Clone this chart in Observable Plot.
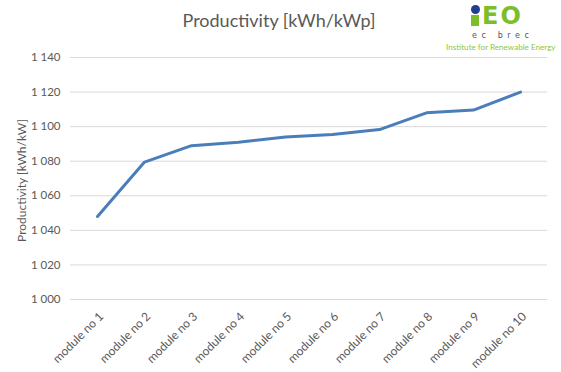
<!DOCTYPE html>
<html><head><meta charset="utf-8">
<script src="https://cdn.jsdelivr.net/npm/d3@7"></script>
<script src="https://cdn.jsdelivr.net/npm/@observablehq/plot@0.6"></script>
<style>
body{margin:0;background:#fff;font-family:Lato,"Open Sans",sans-serif;}
#wrap{position:relative;width:561px;height:372px;}
#title{position:absolute;left:0;width:558px;top:9px;text-align:center;font-size:18px;color:#595959;}
#logo{position:absolute;left:440px;top:0;width:121px;height:56px;}
</style></head>
<body><div id="wrap"><div id="chart"></div><div id="title">Productivity [kWh/kWp]</div>
<div id="logo">
<div style="position:absolute;left:31px;top:5px;width:9px;height:9px;border-radius:50%;background:#1f3f8f"></div>
<div style="position:absolute;left:31px;top:15px;width:8px;height:11px;background:#7cbd2a"></div>
<div style="position:absolute;left:42px;top:2px;font:bold 24px 'DejaVu Sans',sans-serif;color:#7cbd2a;letter-spacing:2px;line-height:28px;height:28px">EO</div>
<div style="position:absolute;left:32px;top:31px;font:8px 'DejaVu Sans',sans-serif;color:#555;letter-spacing:4.6px;line-height:9px">ec brec</div>
<div style="position:absolute;left:6px;top:42px;font-size:8.1px;color:#8dc63f;white-space:nowrap;line-height:10px">Institute for Renewable Energy</div>
</div></div>
<script>
const categories = ["module no 1","module no 2","module no 3","module no 4","module no 5","module no 6","module no 7","module no 8","module no 9","module no 10"];
const productivity = [1048, 1079.5, 1089, 1091, 1094, 1095.5, 1098.3, 1108, 1109.6, 1120];
const yTicks = [1000,1020,1040,1060,1080,1100,1120,1140];
const data = categories.map((c,i)=>({module:c, value:productivity[i]}));
const fmt = d => d3.format(",")(d).replace(/,/g," ");
const chart = Plot.plot({
  width:561, height:372,
  marginLeft:70, marginRight:14, marginTop:57, marginBottom:73,
  style:{fontFamily:"Lato, 'Open Sans', sans-serif", fontSize:"11.5px", color:"#595959", background:"#fff"},
  x:{type:"point", domain:categories, padding:0.5, label:null},
  y:{domain:[1000,1140], label:null},
  marks:[
    Plot.ruleY(yTicks,{stroke:"#d9d9d9", strokeWidth:1}),
    Plot.axisY({ticks:yTicks, tickFormat:fmt, tickSize:0, tickPadding:10, label:null, fill:"#595959"}),
    Plot.axisX({tickSize:0, tickRotate:-45, tickPadding:15, dx:4, label:null, fill:"#595959", fontSize:12}),
    Plot.text(["Productivity [kWh/kW]"],{frameAnchor:"left", textAnchor:"middle", dx:-48, dy:2, rotate:-90, fill:"#595959", fontSize:12}),
    Plot.line(data,{x:"module", y:"value", stroke:"#4a7ebb", strokeWidth:3, strokeLinejoin:"round", strokeLinecap:"round"})
  ]
});
document.getElementById("chart").appendChild(chart);
</script></body></html>
